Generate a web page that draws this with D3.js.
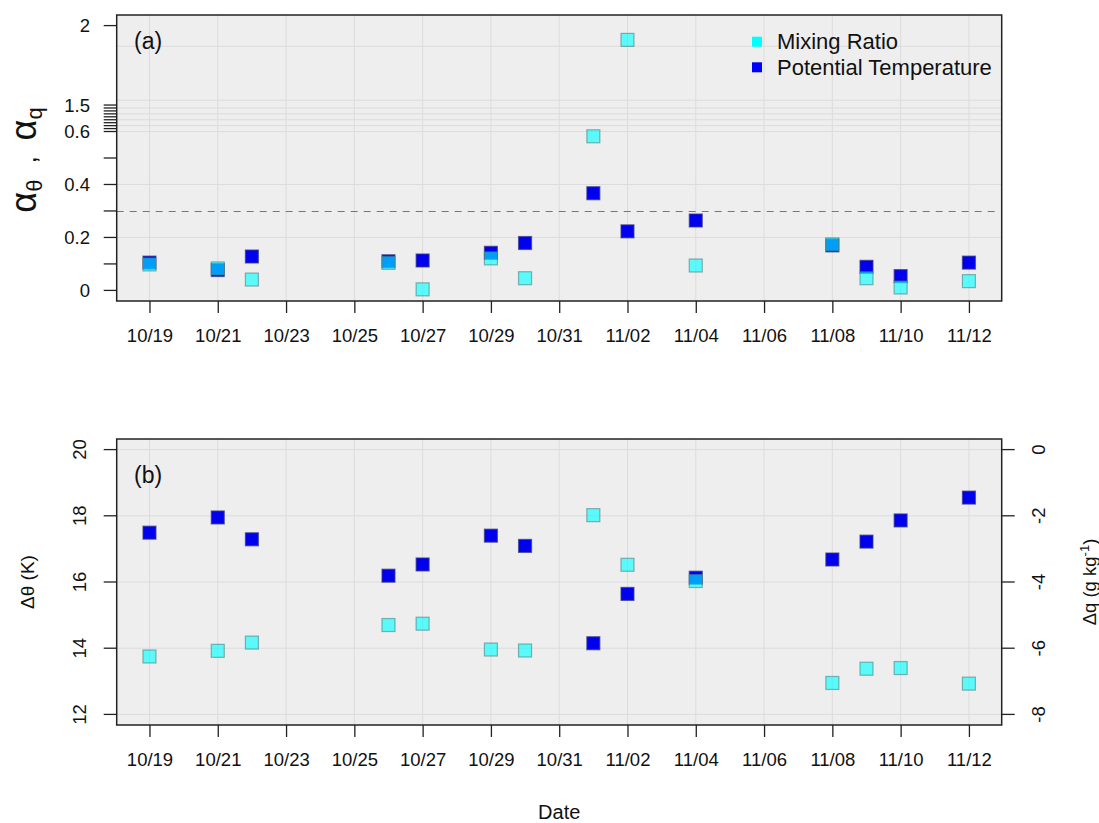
<!DOCTYPE html>
<html>
<head>
<meta charset="utf-8">
<script src="https://cdn.jsdelivr.net/npm/d3@7"></script>
<style>
  body { margin: 0; background: #fff; }
  svg { font-family: "Liberation Sans", Arial, sans-serif; }
</style>
</head>
<body>
<div id="chartbox"></div>
<script>

// sampling days
const dates = ['10/19', '10/21', '10/22', '10/26', '10/27', '10/29', '10/30', '11/01', '11/02', '11/04', '11/08', '11/09', '11/10', '11/12']
// panel (a)
const alphaTheta = [0.105, 0.077, 0.128, 0.110, 0.113, 0.142, 0.179, 0.367, 0.223, 0.264, 0.170, 0.089, 0.054, 0.105]
const alphaQ = [0.098, 0.083, 0.041, 0.104, 0.004, 0.121, 0.046, 0.582, 1.91, 0.094, 0.174, 0.046, 0.011, 0.035]
// panel (b)
const dTheta = [17.49, 17.95, 17.29, 16.19, 16.53, 17.40, 17.09, 14.15, 15.64, 16.13, 16.68, 17.22, 17.86, 18.55]
const dQ = [-6.25, -6.08, -5.83, -5.30, -5.26, -6.04, -6.07, -1.98, -3.48, -3.97, -7.05, -6.62, -6.60, -7.07]

const tickDates = ['10/19', '10/21', '10/23', '10/25', '10/27', '10/29', '10/31', '11/02', '11/04', '11/06', '11/08', '11/10', '11/12']
const alphaTicks = [0, 0.1, 0.2, 0.3, 0.4, 0.5, 0.6, 0.7, 0.8, 0.9, 1.0, 1.1, 1.2, 1.3, 1.4, 1.5, 2]
const alphaLabels = ['0', '', '0.2', '', '0.4', '', '0.6', '', '', '', '', '', '', '', '', '1.5', '2']
const alphaBreaks = [0, 0.6, 1.5, 2]
const alphaGrid = [0.2, 0.4, 0.6, 0.8, 1.0, 1.2, 1.4, 1.53, 1.87]
const thetaTicks = [12, 14, 16, 18, 20]
const qTicks = [-8, -6, -4, -2, 0]
const threshold = 0.3
const seriesNames = ['Mixing Ratio', 'Potential Temperature']

const W = 1099, H = 823
const L = 116.7, R = 1001.7
const A = { top: 15, bottom: 301 }
const B = { top: 439, bottom: 725 }
const PADF = 0.04 / 1.08
const SQ = 13
const FS = 18.5

const BG = '#eeeeee', GRID = '#dcdcdc'
const CYAN = 'rgba(0,255,255,0.62)', BLUE = '#0000ee'

const parse = s => { const [m, d] = s.split('/'); return new Date(Date.UTC(2000, +m - 1, +d)) }
const DAY = 864e5
const days = dates.map(parse)

const svg = d3.select('#chartbox')
  .append('svg')
  .attr('width', W)
  .attr('height', H)

const x = d3.scaleUtc()
  .domain([+days[0] - 0.96 * DAY, +days[days.length - 1] + 0.96 * DAY])
  .range([L, R])

// broken axis for (a): 0-0.6 linear, 0.6-1.5 squeezed, 1.5-2 above
const aPad = (A.bottom - A.top) * PADF
const aInner = d3.scaleLinear().domain([0, 1]).range([A.bottom - aPad, A.top + aPad])
const aBreak = d3.scaleLinear().domain(alphaBreaks).range([0, 0.6, 0.7, 1])
const yA = v => aInner(aBreak(v))

const bPad = (B.bottom - B.top) * PADF
const yT = d3.scaleLinear().domain([12, 20]).range([B.bottom - bPad, B.top + bPad])
const yQ = d3.scaleLinear().domain([-8, 0]).range([B.bottom - bPad, B.top + bPad])

function panel(p, gridY) {
  const g = svg.append('g')
  g.append('rect')
    .attr('x', L).attr('y', p.top)
    .attr('width', R - L).attr('height', p.bottom - p.top)
    .attr('fill', BG)
  g.selectAll('.vg')
    .data(tickDates.map(parse))
    .enter().append('line')
    .attr('x1', d => x(d)).attr('x2', d => x(d))
    .attr('y1', p.top).attr('y2', p.bottom)
    .attr('stroke', GRID).attr('stroke-width', 1)
  g.selectAll('.hg')
    .data(gridY)
    .enter().append('line')
    .attr('x1', L).attr('x2', R)
    .attr('y1', d => d).attr('y2', d => d)
    .attr('stroke', GRID).attr('stroke-width', 1)
  return g
}

function xAxis(p) {
  const ax = d3.axisBottom(x)
    .tickValues(tickDates.map(parse))
    .tickFormat(d3.utcFormat('%m/%d'))
    .tickSize(12)
    .tickPadding(16)
  const g = svg.append('g')
    .attr('transform', `translate(0,${p.bottom})`)
    .call(ax)
  g.select('.domain').remove()
  g.selectAll('line').attr('stroke', '#222').attr('stroke-width', 1.3)
  g.selectAll('text').attr('font-size', FS).attr('fill', '#111').attr('font-family', 'Liberation Sans, Arial, sans-serif')
}

function squares(g, xs, ys, fill, stroke) {
  g.append('g').selectAll('rect')
    .data(xs.map((d, i) => [d, ys[i]]))
    .enter().append('rect')
    .attr('x', d => x(d[0]) - SQ / 2)
    .attr('y', d => d[1] - SQ / 2)
    .attr('width', SQ).attr('height', SQ)
    .attr('fill', fill)
    .attr('stroke', stroke)
    .attr('stroke-width', 1.2)
}

function box(p) {
  svg.append('rect')
    .attr('x', L).attr('y', p.top)
    .attr('width', R - L).attr('height', p.bottom - p.top)
    .attr('fill', 'none')
    .attr('stroke', '#222').attr('stroke-width', 1.5)
}

// ---- panel (a)
const ga = panel(A, alphaGrid.map(yA))

ga.append('line')
  .attr('x1', L).attr('x2', R - 5)
  .attr('y1', Math.round(yA(threshold)) + 0.5).attr('y2', Math.round(yA(threshold)) + 0.5)
  .attr('stroke', '#e0484e').attr('stroke-width', 1)
  .attr('stroke-dasharray', '7,6')

squares(ga, days, alphaTheta.map(yA), BLUE, 'rgba(60,60,130,0.7)')
squares(ga, days, alphaQ.map(yA), CYAN, 'rgba(70,120,120,0.55)')
box(A)
xAxis(A)

const ya = svg.append('g')
ya.selectAll('line')
  .data(alphaTicks)
  .enter().append('line')
  .attr('x1', L - 13).attr('x2', L)
  .attr('y1', d => yA(d)).attr('y2', d => yA(d))
  .attr('stroke', '#222').attr('stroke-width', 1.3)
ya.selectAll('text')
  .data(alphaTicks)
  .enter().append('text')
  .attr('x', 90)
  .attr('y', d => yA(d))
  .attr('dy', '0.35em')
  .attr('text-anchor', 'end')
  .attr('font-size', FS)
  .attr('fill', '#111')
  .text((d, i) => alphaLabels[i])

const at = svg.append('text')
  .attr('transform', `translate(36,${(A.top + A.bottom) / 2 + 2}) rotate(-90)`)
  .attr('text-anchor', 'middle')
  .attr('fill', '#111')
  .attr('font-size', 36)
at.append('tspan').text('α')
at.append('tspan').attr('font-size', 22).attr('dy', 6).text('θ')
at.append('tspan').attr('font-size', 26).attr('dy', -6).attr('dx', 16).text(',')
at.append('tspan').attr('dx', 16).text('α')
at.append('tspan').attr('font-size', 22).attr('dy', 6).text('q')

svg.append('text')
  .attr('x', 134).attr('y', 49)
  .attr('font-size', 23).attr('fill', '#111')
  .text('(a)')

// legend
const lg = svg.append('g')
lg.selectAll('rect')
  .data([['#00ffff', 0], ['#0000ff', 1]])
  .enter().append('rect')
  .attr('x', 752).attr('y', d => 36.7 + d[1] * 25.6)
  .attr('width', 10).attr('height', 10)
  .attr('fill', d => d[0])
lg.selectAll('text')
  .data(seriesNames)
  .enter().append('text')
  .attr('x', 777).attr('y', (d, i) => 41.7 + i * 25.6)
  .attr('dy', '0.35em')
  .attr('font-size', 22).attr('fill', '#111')
  .text(d => d)

// ---- panel (b)
const gb = panel(B, thetaTicks.map(yT))
squares(gb, days, dTheta.map(yT), BLUE, 'rgba(60,60,130,0.7)')
squares(gb, days, dQ.map(yQ), CYAN, 'rgba(70,120,120,0.55)')
box(B)
xAxis(B)

const yl = svg.append('g')
yl.selectAll('line')
  .data(thetaTicks)
  .enter().append('line')
  .attr('x1', L - 13).attr('x2', L)
  .attr('y1', d => yT(d)).attr('y2', d => yT(d))
  .attr('stroke', '#222').attr('stroke-width', 1.3)
yl.selectAll('text')
  .data(thetaTicks)
  .enter().append('text')
  .attr('transform', d => `translate(80,${yT(d)}) rotate(-90)`)
  .attr('dy', '0.35em')
  .attr('text-anchor', 'middle')
  .attr('font-size', FS).attr('fill', '#111')
  .text(d => d)

const yr = svg.append('g')
yr.selectAll('line')
  .data(qTicks)
  .enter().append('line')
  .attr('x1', R).attr('x2', R + 13)
  .attr('y1', d => yQ(d)).attr('y2', d => yQ(d))
  .attr('stroke', '#222').attr('stroke-width', 1.3)
yr.selectAll('text')
  .data(qTicks)
  .enter().append('text')
  .attr('transform', d => `translate(1039,${yQ(d)}) rotate(-90)`)
  .attr('dy', '0.35em')
  .attr('text-anchor', 'middle')
  .attr('font-size', FS).attr('fill', '#111')
  .text(d => d)

svg.append('text')
  .attr('transform', `translate(27,${(B.top + B.bottom) / 2}) rotate(-90)`)
  .attr('dy', '0.35em')
  .attr('text-anchor', 'middle')
  .attr('font-size', 19).attr('fill', '#111')
  .text('Δθ  (K)')

const qt = svg.append('text')
  .attr('transform', `translate(1090,${(B.top + B.bottom) / 2}) rotate(-90)`)
  .attr('dy', '0.35em')
  .attr('text-anchor', 'middle')
  .attr('font-size', 18.5).attr('fill', '#111')
qt.append('tspan').text('Δq (g kg')
qt.append('tspan').attr('font-size', 13).attr('dy', -7).text('-1')
qt.append('tspan').attr('dy', 7).text(')')

svg.append('text')
  .attr('x', 134).attr('y', 483)
  .attr('font-size', 23).attr('fill', '#111')
  .text('(b)')

svg.append('text')
  .attr('x', (L + R) / 2).attr('y', 812)
  .attr('dy', '0.35em')
  .attr('text-anchor', 'middle')
  .attr('font-size', 20).attr('fill', '#111')
  .text('Date')

</script>
</body>
</html>
